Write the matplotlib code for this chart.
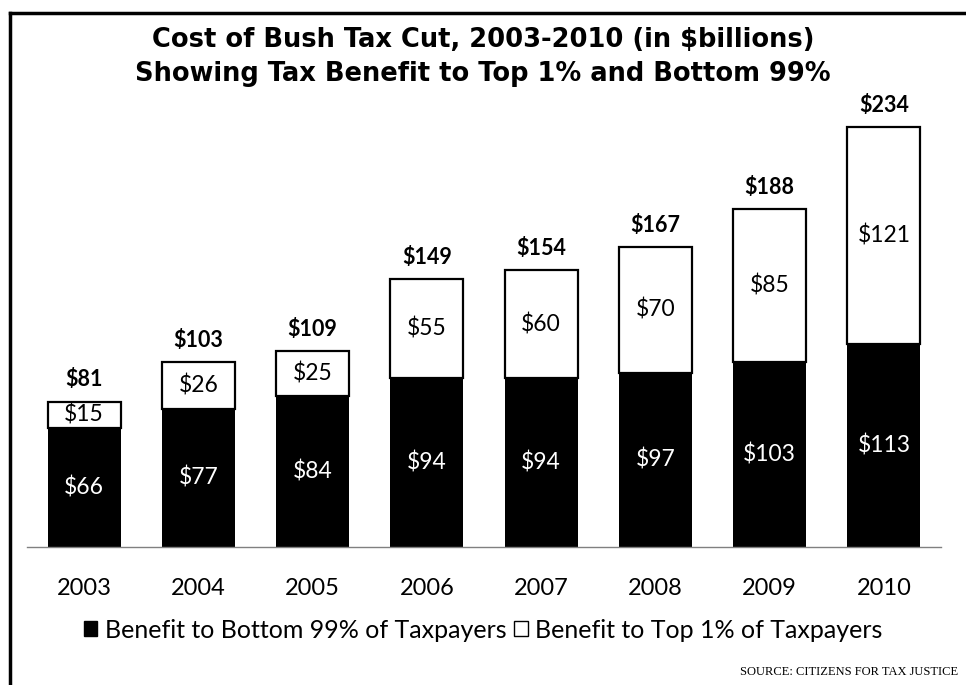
import matplotlib
matplotlib.use("Agg")
import matplotlib.pyplot as plt
from matplotlib.lines import Line2D
from matplotlib.patches import Patch

years = ["2003", "2004", "2005", "2006", "2007", "2008", "2009", "2010"]
bottom99 = [66, 77, 84, 94, 94, 97, 103, 113]
top1 = [15, 26, 25, 55, 60, 70, 85, 121]
totals = [81, 103, 109, 149, 154, 167, 188, 234]

FONT = "Lato"

fig = plt.figure(figsize=(9.66, 6.85), dpi=100)
ax = fig.add_axes([27/966, 1-547/685, (941-27)/966, 449/685])

x = list(range(len(years)))
w = 0.64
ax.bar(x, bottom99, width=w, color="black", edgecolor="black", linewidth=0)
ax.bar(x, top1, width=w, bottom=bottom99, color="white", edgecolor="black", linewidth=1.6)

for i in x:
    ax.text(i, bottom99[i] / 2, f"${bottom99[i]}", ha="center", va="center",
            color="white", fontsize=16.5, family=FONT)
    ax.text(i, bottom99[i] + top1[i] / 2, f"${top1[i]}", ha="center", va="center",
            color="black", fontsize=16.5, family=FONT)
    ax.annotate(f"${totals[i]}", (i, totals[i]), xytext=(0, 8), textcoords="offset points",
                ha="center", va="bottom", fontsize=15.5, fontweight="bold", family=FONT)

ax.set_xlim(-0.5, 7.5)
ax.set_ylim(0, 250)
for s in ["top", "right", "left"]:
    ax.spines[s].set_visible(False)
ax.spines["bottom"].set_color("#808080")
ax.spines["bottom"].set_linewidth(1.0)
ax.set_yticks([])
ax.set_xticks(x)
ax.set_xticklabels(years, fontsize=17, family=FONT)
ax.tick_params(axis="x", length=0, pad=22)

fig.text(0.5, 1-40/685, "Cost of Bush Tax Cut, 2003-2010 (in $billions)", ha="center", va="center",
         fontsize=18.5, fontweight="bold", family="DejaVu Sans")
fig.text(0.5, 1-74/685, "Showing Tax Benefit to Top 1% and Bottom 99%", ha="center", va="center",
         fontsize=18.5, fontweight="bold", family="DejaVu Sans")

handles = [Patch(facecolor="black", edgecolor="black"),
           Patch(facecolor="white", edgecolor="black", linewidth=1.0)]
leg = fig.legend(handles, ["Benefit to Bottom 99% of Taxpayers", "Benefit to Top 1% of Taxpayers"],
                 loc="center", bbox_to_anchor=(0.5, 1-630/685), ncol=2, frameon=False,
                 prop={"family": FONT, "size": 18}, handlelength=0.55, handleheight=0.55,
                 handletextpad=0.3, columnspacing=0.3)

fig.text(958/966, 1-672/685, "SOURCE: CITIZENS FOR TAX JUSTICE", ha="right", va="center",
         fontsize=9, family="Liberation Serif")

# frame lines (left and top)
fig.add_artist(Line2D([10/966, 10/966], [0, 1-13/685], transform=fig.transFigure, color="black", linewidth=2.5,
                      solid_capstyle="projecting"))
fig.add_artist(Line2D([10/966, 1.0], [1-13/685, 1-13/685], transform=fig.transFigure, color="black", linewidth=2.5,
                      solid_capstyle="projecting"))

fig.savefig("out.png", dpi=100)
